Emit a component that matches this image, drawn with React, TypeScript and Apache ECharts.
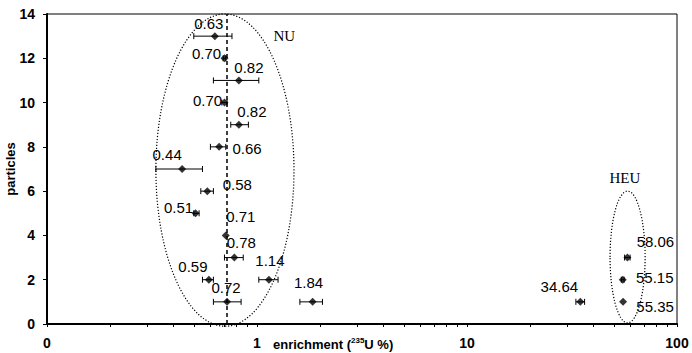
import React, { useEffect, useRef } from "react";
import * as echarts from "echarts";

// enrichment values (235U %) and particle index
const enrichment = [0.63, 0.70, 0.82, 0.70, 0.82, 0.66, 0.44, 0.58, 0.51, 0.71, 0.78, 1.14, 0.59, 0.72, 1.84, 34.64, 58.06, 55.15, 55.35];
const particle = [13, 12, 11, 10, 9, 8, 7, 6, 5, 4, 3, 2, 2, 1, 1, 1, 3, 2, 1];
const errLow = [0.50, 0.69, 0.62, 0.68, 0.75, 0.60, 0.33, 0.54, 0.50, 0.71, 0.70, 1.02, 0.55, 0.62, 1.60, 33.0, 56.3, 54.3, 55.35];
const errHigh = [0.76, 0.71, 1.02, 0.72, 0.91, 0.71, 0.55, 0.62, 0.53, 0.71, 0.86, 1.26, 0.62, 0.84, 2.05, 36.3, 59.8, 56.0, 55.35];
const xTickValues = [0.1, 0.2, 0.3, 0.4, 0.5, 0.6, 0.7, 0.8, 0.9, 1, 2, 3, 4, 5, 6, 7, 8, 9, 10, 20, 30, 40, 50, 60, 70, 80, 90, 100];
const xLabelValues = [0.1, 1, 10, 100];
const naturalU = 0.72;
// group regions [xMin, xMax, yMin, yMax]
const nuRegion = [0.33, 1.5, -0.1, 14.0];
const heuRegion = [48, 70.5, 0.05, 6.0];

// label offsets (pixels) relative to each point
const labelOffsets = [
  [-6, -13], [-18, -5], [10, -13], [-17, -2], [13, -13], [28, 2], [-15, -15], [30, -7], [-17, -6],
  [15, -19], [7, -15], [1, -19], [-16, -13], [-1, -14], [-4, -19], [-21, -15], [28, -16], [32, -2], [32, 5],
];

const FONT = "'Liberation Sans', Arial, sans-serif";

export default function App() {
  const ref = useRef<HTMLDivElement>(null);
  useEffect(() => {
    if (!ref.current) return;
    const chart = echarts.init(ref.current, null, { renderer: "svg" });
    const scatterData = enrichment.map((v, i) => ({
      value: [v, particle[i]],
      label: { offset: labelOffsets[i] },
    }));
    const errData = enrichment.map((v, i) => [errLow[i], errHigh[i], particle[i]]);
    chart.setOption({
      animation: false,
      backgroundColor: "#fff",
      grid: {
        left: 47, right: 15, top: 14, bottom: 29,
        containLabel: false,
        outerBoundsMode: "none",
        show: true, borderColor: "#000", borderWidth: 1, backgroundColor: "transparent",
      },
      xAxis: {
        type: "log",
        logBase: 10,
        min: 0.1,
        max: 100,
        axisLine: { show: true, lineStyle: { color: "#000", width: 2 } },
        axisTick: { show: true, customValues: xTickValues, length: 3, lineStyle: { color: "#000", width: 1 } },
        minorTick: { show: false },
        splitLine: { show: false },
        axisLabel: {
          customValues: xLabelValues,
          formatter: (v: number) => (v < 0.5 ? "0" : String(Math.round(v))),
          fontFamily: FONT, fontSize: 14, fontWeight: "bold", color: "#000", margin: 12,
        },
      },
      yAxis: {
        type: "value",
        min: 0,
        max: 14,
        interval: 2,
        name: "particles",
        nameLocation: "middle",
        nameGap: 30,
        nameMoveOverlap: false,
        nameTextStyle: { fontFamily: FONT, fontSize: 13, fontWeight: "bold", color: "#000" },
        axisLine: { show: true, lineStyle: { color: "#000", width: 2 } },
        axisTick: { show: true, length: 4, lineStyle: { color: "#000" } },
        splitLine: { show: false },
        axisLabel: { fontFamily: FONT, fontSize: 14, fontWeight: "bold", color: "#000", margin: 12 },
      },
      series: [
        {
          type: "custom",
          data: errData,
          encode: { x: [0, 1], y: 2 },
          z: 2,
          silent: true,
          renderItem: (params: any, api: any) => {
            const lo = api.coord([api.value(0), api.value(2)]);
            const hi = api.coord([api.value(1), api.value(2)]);
            const h = 3;
            const st = { stroke: "#000", lineWidth: 1 };
            if (hi[0] - lo[0] < 1) return { type: "group", children: [] };
            return {
              type: "group",
              children: [
                { type: "line", shape: { x1: lo[0], y1: lo[1], x2: hi[0], y2: hi[1] }, style: st },
                { type: "line", shape: { x1: lo[0], y1: lo[1] - h, x2: lo[0], y2: lo[1] + h }, style: st },
                { type: "line", shape: { x1: hi[0], y1: hi[1] - h, x2: hi[0], y2: hi[1] + h }, style: st },
              ],
            };
          },
        },
        {
          type: "scatter",
          data: scatterData,
          symbol: "diamond",
          symbolSize: 8,
          z: 3,
          itemStyle: { color: "#000" },
          label: {
            show: true,
            position: "inside",
            align: "center",
            verticalAlign: "middle",
            fontFamily: FONT,
            fontSize: 15,
            color: "#000",
            textBorderWidth: 0,
            opacity: 1,
            formatter: (p: any) => enrichment[p.dataIndex].toFixed(2),
          },
          markLine: {
            silent: true,
            symbol: "none",
            label: { show: false },
            lineStyle: { color: "#000", type: [4, 3], width: 1.5 },
            data: [{ xAxis: naturalU }],
          },
        },
      ],
    });

    const toPx = (x: number, y: number) => chart.convertToPixel({ gridIndex: 0 }, [x, y]) as number[];
    const ell = (r: number[]) => {
      const a = toPx(r[0], r[3]);
      const b = toPx(r[1], r[2]);
      return { cx: (a[0] + b[0]) / 2, cy: (a[1] + b[1]) / 2, rx: (b[0] - a[0]) / 2, ry: (b[1] - a[1]) / 2 };
    };
    const nu = ell(nuRegion);
    const heu = ell(heuRegion);
    const ellStyle = { fill: "none", stroke: "#000", lineWidth: 1.2, lineDash: [1.2, 1.8] };
    const nuTxt = toPx(1.35, 13.0);
    const heuTxt = toPx(56.5, 6.6);
    chart.setOption({
      graphic: [
        { type: "ellipse", shape: nu, style: ellStyle, silent: true, z: 10 },
        { type: "ellipse", shape: heu, style: ellStyle, silent: true, z: 10 },
        {
          type: "text", x: nuTxt[0], y: nuTxt[1], silent: true, z: 10,
          style: { text: "NU", fontFamily: "'Liberation Serif', 'Times New Roman', serif", fontSize: 15, fill: "#000", align: "center", verticalAlign: "middle" },
        },
        {
          type: "text", x: heuTxt[0], y: heuTxt[1], silent: true, z: 10,
          style: { text: "HEU", fontFamily: "'Liberation Serif', 'Times New Roman', serif", fontSize: 15, fill: "#000", align: "center", verticalAlign: "middle" },
        },
        {
          type: "text", x: 273, y: 344, silent: true, z: 10,
          style: {
            text: "{a|enrichment (}{s|235}{a|U %)}",
            verticalAlign: "middle",
            align: "left",
            rich: {
              a: { fontFamily: FONT, fontSize: 13, fontWeight: "bold", fill: "#000", lineHeight: 16 },
              s: { fontFamily: FONT, fontSize: 8, fontWeight: "bold", fill: "#000", lineHeight: 16, verticalAlign: "top", padding: [0, 0, 6, 0] },
            },
          },
        },
      ],
    });
    return () => chart.dispose();
  }, []);
  return <div ref={ref} style={{ position: "fixed", left: 0, top: 0, width: 692, height: 353 }} />;
}
